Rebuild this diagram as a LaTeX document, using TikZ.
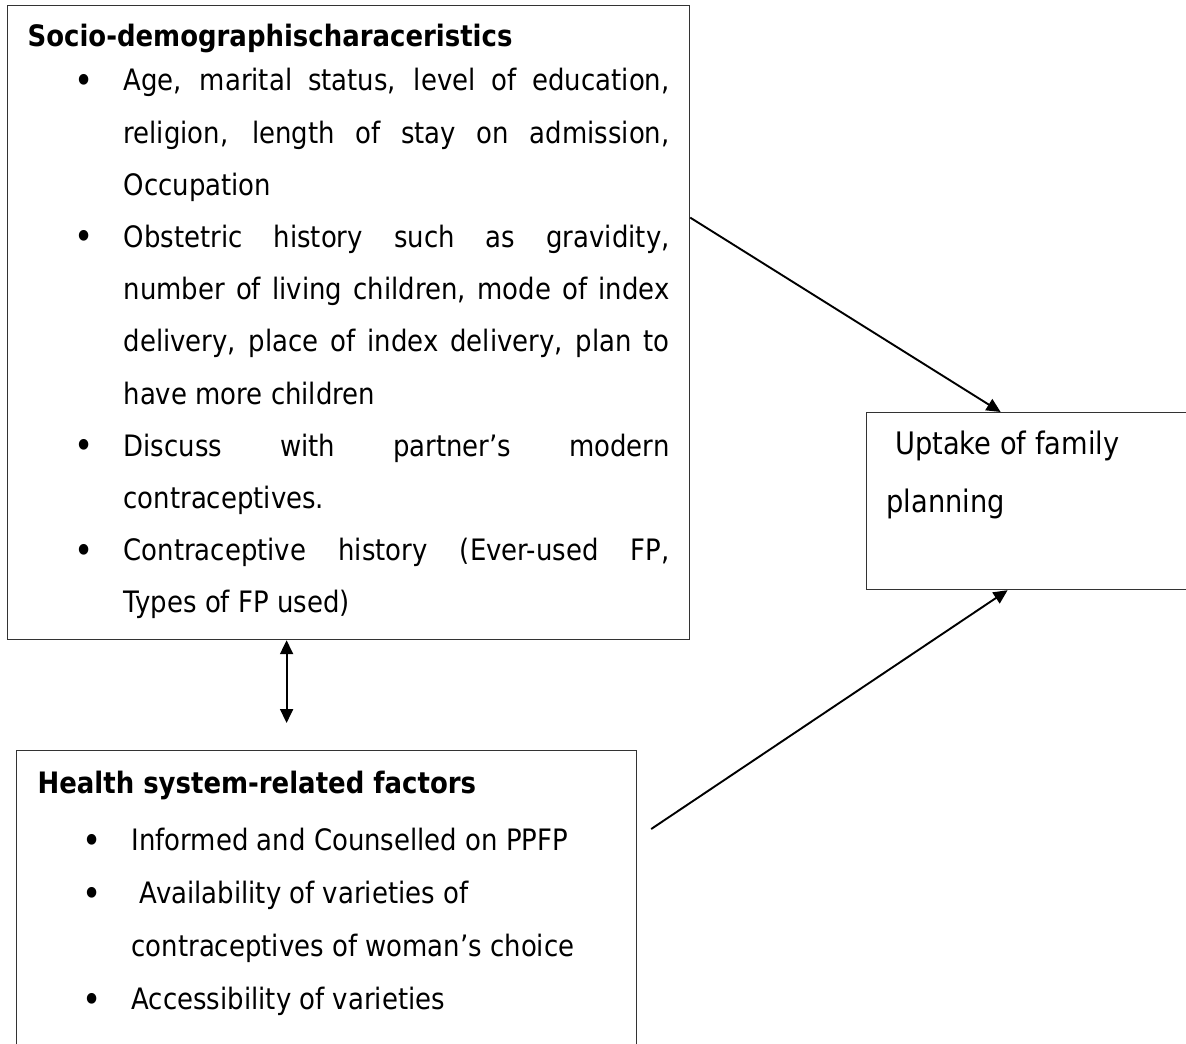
\documentclass[tikz,border=0pt]{standalone}
\usepackage{fontspec}
\setmainfont{DejaVu Sans}[FakeStretch=0.88]
\usepackage{graphicx}
\usepackage{tikz}
\usetikzlibrary{arrows.meta}

% rows of text inside the boxes
\newcommand{\row}[2]{\hbox to\hsize{\hskip#1#2\hskip20pt}}
\newcommand{\rrow}[2]{\hbox to\hsize{\hskip#1#2\hfil}}
\newcommand{\dotat}[1]{\llap{\raisebox{-0.15ex}{\scalebox{1.25}{\textbullet}}\hskip#1}}
\hbadness=10000

\begin{document}
\begin{tikzpicture}[x=1pt, y=1pt, >={Triangle[length=14pt, width=13pt]}, line width=1.9pt,
	font=\fontsize{29.5}{35}\selectfont,
	main box/.style={rectangle, draw=black!80, line width=1.2pt, inner sep=0pt, anchor=north west},
]
\useasboundingbox (0, 0) rectangle (1186, -1044);
\clip (0, 0) rectangle (1186, -1044);
\node [main box] at (7, -5) (socio) {\vbox to 634pt{\hsize=682pt \baselineskip=52.2pt \lineskiplimit=-1000pt
	\rrow{20pt}{\rule{0pt}{41pt}\bfseries Socio-demographischaraceristics}
	\vskip-8pt
	\row{116pt}{\dotat{30pt}Age, marital status, level of education,}
	\row{116pt}{religion, length of stay on admission,}
	\rrow{116pt}{Occupation}
	\row{116pt}{\dotat{30pt}Obstetric history such as gravidity,}
	\row{116pt}{number of living children, mode of index}
	\row{116pt}{delivery, place of index delivery, plan to}
	\rrow{116pt}{have more children}
	\row{116pt}{\dotat{30pt}Discuss with partner’s modern}
	\rrow{116pt}{contraceptives.}
	\row{116pt}{\dotat{30pt}Contraceptive history (Ever-used FP,}
	\rrow{116pt}{Types of FP used)}
	\vfil}};
\node [main box] at (16, -750) (health) {\vbox to 320pt{\hsize=620pt \baselineskip=53pt \lineskiplimit=-1000pt
	\rrow{21pt}{\rule{0pt}{43pt}\bfseries Health system-related factors}
	\vskip4pt
	\rrow{115pt}{\dotat{30pt}Informed and Counselled on PPFP}
	\rrow{115pt}{\dotat{30pt}\ Availability of varieties of}
	\rrow{115pt}{contraceptives of woman’s choice}
	\rrow{115pt}{\dotat{30pt}Accessibility of varieties}
	\vfil}};
\node [main box, font=\fontsize{31}{36}\selectfont] at (866, -412) (uptake) {\vbox to 177pt{\hsize=344pt \baselineskip=58pt \lineskiplimit=-1000pt
	\rrow{20pt}{\rule{0pt}{42pt}\ Uptake of family}
	\rrow{20pt}{planning}
	\vfil}};
\coordinate (hin) at ([xshift=-40pt, yshift=27pt]health.north);
\coordinate (hout) at ([xshift=14pt, yshift=-79pt]health.north east);
%
\draw [->] ([yshift=105pt]socio.east) -- ([xshift=-38pt]uptake.north);
\draw [<->] ([xshift=-62pt]socio.south) -- (hin);
\draw [->] (hout) -- ([xshift=-31pt]uptake.south);
\end{tikzpicture}
\end{document}
